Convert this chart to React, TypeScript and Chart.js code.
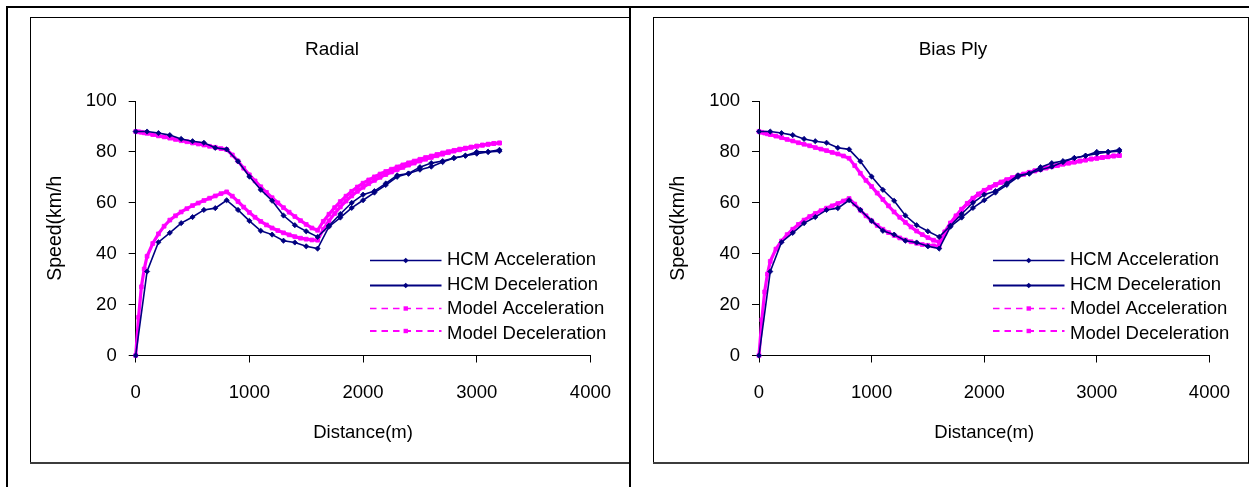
import React, { useEffect, useRef } from 'react';
import { Chart, registerables } from 'chart.js';

Chart.register(...registerables);

// ---------- data ----------
const hcmDist = [0, 100, 200, 300, 400, 500, 600, 700, 800, 900, 1000, 1100, 1200, 1300, 1400, 1500, 1600,
  1700, 1800, 1900, 2000, 2100, 2200, 2300, 2400, 2500, 2600, 2700, 2800, 2900, 3000, 3100, 3200];
const hcmAccel = [0, 33, 44.5, 48.2, 52, 54.4, 57.2, 57.9, 61, 57.2, 52.9, 49, 47.5, 45.1, 44.4, 42.9, 42,
  50.6, 54.2, 58, 61, 64, 67, 70.2, 71.5, 73, 74.2, 76, 77.6, 78.5, 79.3, 80, 80.3];
const hcmDecel = [88, 88, 87.4, 86.6, 85.1, 84.2, 83.6, 81.6, 81, 76.3, 70.3, 65.1, 60.8, 55, 51.2, 48.8, 46.6,
  51, 55.6, 60, 63.2, 64.6, 67.6, 70.8, 71.5, 74, 75.6, 76.4, 77.6, 78.5, 80, 80, 80.8];

const modelDist = [0, 25, 50, 75, 100, 150, 200, 250, 300, 350, 400, 450, 500, 550, 600, 650, 700, 750, 800,
  850, 900, 950, 1000, 1050, 1100, 1150, 1200, 1250, 1300, 1350, 1400, 1450, 1500, 1550, 1600,
  1650, 1700, 1750, 1800, 1850, 1900, 1950, 2000, 2050, 2100, 2150, 2200, 2250, 2300, 2350, 2400, 2450,
  2500, 2550, 2600, 2650, 2700, 2750, 2800, 2850, 2900, 2950, 3000, 3050, 3100, 3150, 3200];

const radialModelAccel = [0, 15, 27, 34, 39,
  44, 47.8, 50.8, 53.2, 54.9, 56.4, 57.7, 58.9, 59.9, 60.9, 61.8, 62.7, 63.6, 64.3,
  62.6, 60.5, 58.3, 56.2, 54.3, 52.7, 51.3, 50.1, 49.1, 48.2, 47.4, 46.7, 46.1, 45.7, 45.4, 45.3,
  49.6, 52.9, 55.8, 58.4, 60.7, 62.7, 64.5, 66.1, 67.5, 68.8, 70, 71.1, 72.1, 73, 73.9, 74.8, 75.6, 76.4,
  77.1, 77.8, 78.5, 79.1, 79.7, 80.3, 80.8, 81.3, 81.8, 82.2, 82.6, 83, 83.3, 83.5];
const radialModelDecel = [88, 87.9, 87.7, 87.5, 87.3,
  86.8, 86.3, 85.9, 85.4, 84.9, 84.4, 84, 83.5, 83.1, 82.7, 82.2, 81.8, 81.3, 80.9,
  78.8, 76.4, 73.6, 71, 68.6, 66.3, 64.1, 62, 60, 58.1, 56.3, 54.6, 53, 51.5, 50.1, 49.2,
  52.7, 55.5, 58.1, 60.5, 62.6, 64.5, 66.2, 67.7, 69, 70.2, 71.3, 72.3, 73.2, 74.1, 74.9, 75.7, 76.4, 77.1,
  77.8, 78.4, 79, 79.6, 80.1, 80.6, 81.1, 81.5, 81.9, 82.3, 82.7, 83, 83.3, 83.5];

const biasModelAccel = [0, 14, 25, 32, 37,
  41.8, 45, 47.5, 49.6, 51.5, 53.2, 54.6, 55.8, 56.9, 57.9, 58.8, 59.7, 60.7, 61.7,
  59.5, 57.1, 54.9, 52.9, 51.1, 49.6, 48.3, 47.2, 46.2, 45.4, 44.7, 44.1, 43.6, 43.3, 43.1, 43,
  48, 51.6, 54.6, 57.3, 59.6, 61.6, 63.3, 64.7, 65.9, 67, 68, 68.9, 69.7, 70.5, 71.2, 71.9, 72.5, 73.1,
  73.7, 74.2, 74.7, 75.2, 75.6, 76, 76.4, 76.8, 77.2, 77.5, 77.8, 78.1, 78.4, 78.6];
const biasModelDecel = [88, 87.7, 87.4, 87.1, 86.8,
  86.2, 85.6, 84.9, 84.3, 83.6, 83, 82.4, 81.7, 81.1, 80.5, 79.8, 79.2, 78.4, 77.5,
  74.6, 71.6, 68.8, 66.4, 63.8, 61.3, 58.8, 56.4, 54.3, 52.3, 50.5, 48.9, 47.5, 46.3, 45.3, 44.6,
  48.6, 52.1, 54.9, 57.5, 59.8, 61.8, 63.5, 64.9, 66.1, 67.2, 68.2, 69.1, 69.9, 70.6, 71.3, 72, 72.6, 73.2,
  73.7, 74.2, 74.7, 75.2, 75.6, 76, 76.4, 76.8, 77.2, 77.5, 77.8, 78.1, 78.4, 78.6];

const seriesNames = ['HCM Acceleration', 'HCM Deceleration', 'Model Acceleration', 'Model Deceleration'];
const xTicks = [0, 1000, 2000, 3000, 4000];
const yTicks = [0, 20, 40, 60, 80, 100];
const xTitle = 'Distance(m)';
const yTitle = 'Speed(km/h';

// ---------- styles ----------
const NAVY = '#000080';
const MAGENTA = '#ff00ff';
const FONT = "'Liberation Sans', Arial, sans-serif";

const pts = (xs: number[], ys: number[]) => xs.map((x, i) => ({ x, y: ys[i] }));

const legendStyles = [
  { color: NAVY, width: 1.5, dash: [] as number[], marker: 'diamond' },
  { color: NAVY, width: 2, dash: [] as number[], marker: 'diamond' },
  { color: MAGENTA, width: 1.5, dash: [6.5, 5], marker: 'square' },
  { color: MAGENTA, width: 2, dash: [6.5, 5], marker: 'square' },
];
const legendLineY = [243.5, 268.5, 291.5, 314];
const legendTextBase = [248, 273, 296.5, 321.5];

function overlayPlugin(title: string) {
  return {
    id: 'overlay',
    afterDraw(chart: any) {
      const ctx = chart.ctx as CanvasRenderingContext2D;
      ctx.save();
      ctx.fillStyle = '#000';
      ctx.font = `19px ${FONT}`;
      ctx.textAlign = 'center';
      ctx.textBaseline = 'alphabetic';
      ctx.fillText(title, chart.width / 2 + 2, 38);

      const x1 = 340, x2 = 411.5, xm = (x1 + x2) / 2, xt = 417;
      seriesNames.forEach((name, i) => {
        const st = legendStyles[i];
        const y = legendLineY[i];
        ctx.strokeStyle = st.color;
        ctx.lineWidth = st.width;
        ctx.setLineDash(st.dash);
        ctx.beginPath();
        ctx.moveTo(x1, y);
        ctx.lineTo(x2, y);
        ctx.stroke();
        ctx.setLineDash([]);
        ctx.fillStyle = st.color;
        ctx.beginPath();
        if (st.marker === 'diamond') {
          ctx.moveTo(xm, y - 2.8);
          ctx.lineTo(xm + 2.8, y);
          ctx.lineTo(xm, y + 2.8);
          ctx.lineTo(xm - 2.8, y);
          ctx.closePath();
        } else {
          ctx.rect(xm - 2.2, y - 2.2, 4.4, 4.4);
        }
        ctx.fill();
        ctx.fillStyle = '#000';
        ctx.font = `18.5px ${FONT}`;
        ctx.textAlign = 'left';
        ctx.fillText(name, xt, legendTextBase[i]);
      });
      ctx.restore();
    },
  };
}

interface PanelProps {
  left: number;
  width: number;
  title: string;
  modelAccel: number[];
  modelDecel: number[];
  plotLeft: number;
  padRight: number;
  rightBorder: boolean;
}

function ChartPanel(props: PanelProps) {
  const ref = useRef<HTMLCanvasElement | null>(null);
  const H = 446;

  useEffect(() => {
    if (!ref.current) return;
    const tickFont = { family: FONT, size: 18.5 };
    const hcmStyle = {
      borderColor: NAVY,
      backgroundColor: NAVY,
      borderWidth: 1.6,
      pointStyle: 'rectRot',
      pointRadius: 2.6,
      pointBorderWidth: 0.8,
      clip: false,
    };
    const modelStyle = {
      borderColor: MAGENTA,
      backgroundColor: MAGENTA,
      borderWidth: 3.2,
      pointStyle: 'rect',
      pointRadius: 2.7,
      pointBorderWidth: 0.8,
      clip: false,
    };
    const chart = new Chart(ref.current, {
      type: 'line',
      data: {
        datasets: [
          { label: seriesNames[0], data: pts(hcmDist, hcmAccel), ...hcmStyle },
          { label: seriesNames[1], data: pts(hcmDist, hcmDecel), ...hcmStyle },
          { label: seriesNames[2], data: pts(modelDist, props.modelAccel), ...modelStyle },
          { label: seriesNames[3], data: pts(modelDist, props.modelDecel), ...modelStyle },
        ],
      } as any,
      options: {
        animation: false,
        responsive: false,
        maintainAspectRatio: false,
        events: [],
        layout: { padding: { left: 0, top: 84, right: props.padRight, bottom: 0 } },
        plugins: {
          legend: { display: false },
          title: { display: false },
          tooltip: { enabled: false },
        },
        scales: {
          x: {
            type: 'linear',
            min: 0,
            max: 4000,
            afterBuildTicks: (s: any) => {
              s.ticks = xTicks.map((v) => ({ value: v }));
            },
            afterFit: (s: any) => {
              s.height = 107.5;
            },
            grid: {
              drawOnChartArea: false,
              drawTicks: true,
              tickLength: 7,
              tickColor: '#000',
              tickWidth: 1,
            },
            border: { display: true, color: '#000', width: 1 },
            ticks: {
              color: '#000',
              font: tickFont,
              padding: 19,
              maxRotation: 0,
              autoSkip: false,
              callback: (v: any) => String(v),
            },
            title: {
              display: true,
              text: xTitle,
              color: '#000',
              font: { family: FONT, size: 18.5 },
              padding: { top: 0, bottom: 19 },
            },
          },
          y: {
            type: 'linear',
            min: 0,
            max: 100,
            afterBuildTicks: (s: any) => {
              s.ticks = yTicks.map((v) => ({ value: v }));
            },
            afterFit: (s: any) => {
              s.width = props.plotLeft;
            },
            grid: {
              drawOnChartArea: false,
              drawTicks: true,
              tickLength: 7,
              tickColor: '#000',
              tickWidth: 1,
            },
            border: { display: true, color: '#000', width: 1 },
            ticks: {
              color: '#000',
              font: tickFont,
              padding: 12,
              autoSkip: false,
              callback: (v: any) => String(v),
            },
            title: {
              display: true,
              text: yTitle,
              color: '#000',
              font: { family: FONT, size: 19.5 },
              padding: { top: 14, bottom: 0 },
            },
          },
        },
      } as any,
      plugins: [overlayPlugin(props.title)],
    });
    return () => chart.destroy();
  }, []);

  const { left, width } = props;
  return (
    <>
      <canvas
        ref={ref}
        width={width}
        height={H}
        style={{ position: 'absolute', left, top: 17, width, height: H, display: 'block' }}
      />
      <div style={{ position: 'absolute', left, top: 17, width, height: 1, background: '#000' }} />
      <div style={{ position: 'absolute', left, top: 17, width: 1, height: H, background: '#000' }} />
      <div style={{ position: 'absolute', left, top: 461.5, width, height: 2, background: '#3c3c3c' }} />
      {props.rightBorder ? (
        <div style={{ position: 'absolute', left: left + width - 1, top: 17, width: 1, height: H, background: '#000' }} />
      ) : null}
    </>
  );
}

export default function App() {
  return (
    <div
      style={{
        position: 'absolute',
        left: 0,
        top: 0,
        width: 1249,
        height: 487,
        background: '#fff',
        overflow: 'hidden',
      }}
    >
      <ChartPanel
        left={30}
        width={600}
        title="Radial"
        modelAccel={radialModelAccel}
        modelDecel={radialModelDecel}
        plotLeft={105.7}
        padRight={25.5}
        rightBorder={false}
      />
      <ChartPanel
        left={653}
        width={596}
        title="Bias Ply"
        modelAccel={biasModelAccel}
        modelDecel={biasModelDecel}
        plotLeft={106}
        padRight={26}
        rightBorder={true}
      />
      <div style={{ position: 'absolute', left: 6, top: 6, width: 1243, height: 2, background: '#000' }} />
      <div style={{ position: 'absolute', left: 6, top: 6, width: 2, height: 481, background: '#000' }} />
      <div style={{ position: 'absolute', left: 629, top: 6, width: 2, height: 481, background: '#000' }} />
    </div>
  );
}
